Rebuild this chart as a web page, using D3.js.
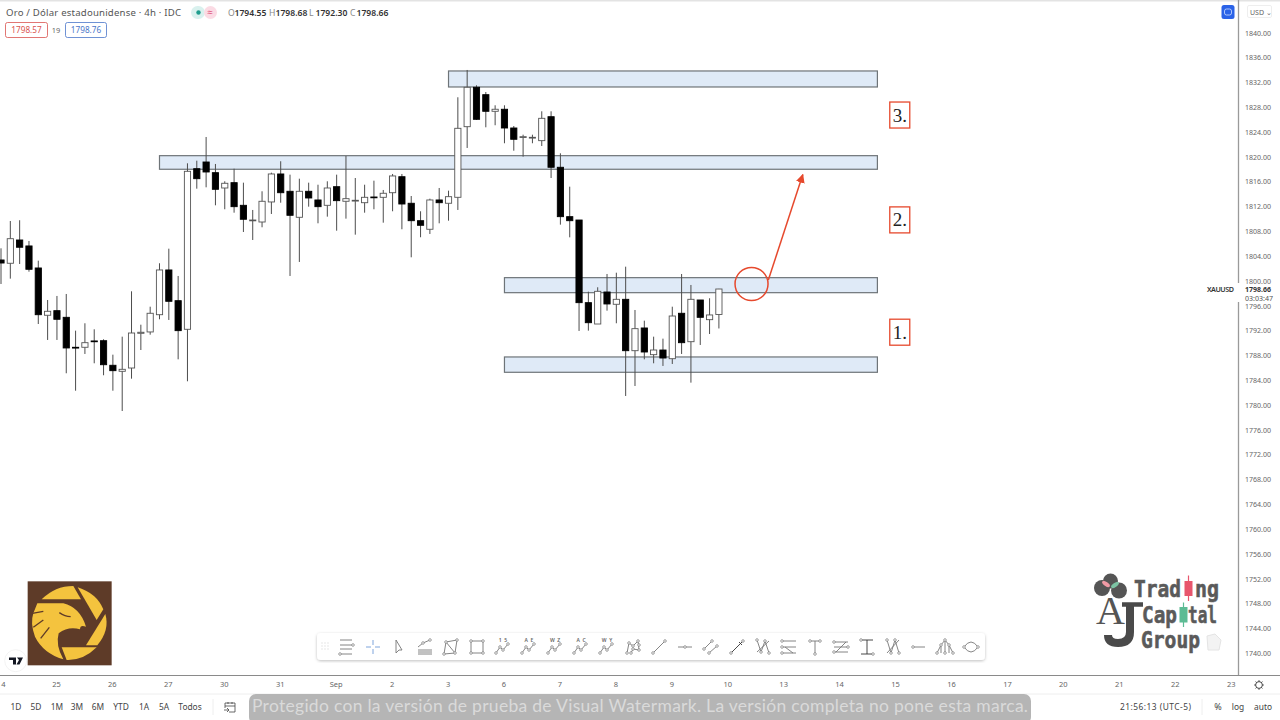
<!DOCTYPE html>
<html>
<head>
<meta charset="utf-8">
<title>Oro / Dólar estadounidense</title>
<style>
html, body { margin: 0; padding: 0; background: #fff; overflow: hidden; }
svg { display: block; font-family: "Noto Sans", "Open Sans", sans-serif; }
</style>
<script src="https://d3js.org/d3.v7.min.js"></script>
</head>
<body>
<script>

// candles, 4h bars
const opens = [1803.34,1802.81,1806.56,1805.60,1802.05,1794.43,1795.17,1794.10,1789.27,1789.27,1790.29,1790.33,1786.37,1785.40,1785.93,1791.52,1791.74,1794.52,1801.73,1796.78,1792.17,1818.05,1819.13,1817.41,1814.94,1815.80,1812.15,1809.67,1809.46,1812.69,1817.20,1814.41,1810.22,1814.41,1813.01,1812.15,1815.15,1812.80,1812.90,1812.57,1813.49,1813.44,1814.18,1816.76,1812.48,1809.67,1808.29,1813.01,1812.48,1813.44,1824.82,1831.17,1829.98,1827.30,1827.63,1824.61,1823.16,1823.05,1822.57,1826.43,1818.28,1810.32,1809.78,1796.46,1793.02,1798.18,1796.20,1797.00,1788.72,1792.38,1788.08,1788.83,1787.43,1794.75,1790.17,1796.89,1793.72,1794.55];
const highs = [1805.22,1809.62,1809.74,1806.40,1803.23,1796.89,1797.54,1797.86,1791.95,1793.14,1792.17,1790.56,1788.08,1790.98,1798.29,1792.91,1795.81,1802.81,1805.16,1800.76,1818.92,1819.34,1823.16,1818.81,1816.02,1818.05,1815.80,1811.40,1814.41,1817.41,1819.25,1817.09,1816.44,1815.80,1815.47,1816.02,1817.09,1820.10,1816.55,1815.47,1816.12,1814.62,1817.20,1817.20,1813.65,1811.19,1813.22,1814.94,1814.51,1829.56,1833.96,1831.49,1830.41,1828.27,1828.27,1824.93,1823.53,1823.53,1827.30,1827.30,1820.53,1815.15,1809.78,1798.23,1798.94,1801.08,1801.29,1802.26,1795.28,1793.56,1790.98,1790.66,1795.81,1801.08,1799.31,1796.89,1797.17,1798.68];
const lows = [1799.47,1800.33,1802.69,1801.45,1793.02,1790.45,1790.45,1785.08,1782.27,1788.19,1786.69,1784.76,1782.27,1779.00,1784.21,1788.83,1791.30,1793.78,1793.67,1787.33,1783.79,1814.83,1815.05,1812.15,1811.51,1810.96,1807.85,1806.56,1808.61,1810.75,1812.57,1800.76,1803.02,1811.93,1809.25,1810.32,1808.06,1810.00,1807.42,1810.96,1811.51,1809.35,1811.19,1808.29,1803.77,1807.00,1807.53,1809.25,1809.67,1811.40,1821.39,1825.90,1824.72,1825.05,1822.15,1820.95,1819.99,1822.15,1821.71,1816.55,1809.03,1806.99,1791.90,1791.95,1793.02,1795.17,1793.14,1781.42,1783.03,1787.33,1786.69,1786.26,1786.58,1788.19,1783.57,1789.64,1791.41,1792.30];
const closes = [1802.85,1806.77,1805.39,1801.84,1794.52,1795.07,1793.78,1789.16,1789.20,1790.01,1790.17,1786.46,1785.50,1785.72,1791.57,1791.69,1794.75,1801.73,1796.68,1791.95,1817.63,1816.44,1817.52,1814.73,1815.70,1811.93,1809.90,1809.78,1812.80,1817.20,1814.18,1810.54,1814.41,1813.33,1811.93,1814.94,1812.90,1813.22,1812.96,1813.44,1813.38,1814.09,1816.88,1812.36,1809.67,1808.93,1813.01,1812.57,1813.54,1824.56,1831.17,1826.01,1827.30,1827.63,1824.61,1822.79,1823.21,1823.11,1826.17,1818.28,1810.32,1809.67,1796.46,1793.23,1798.29,1796.25,1797.00,1788.72,1792.27,1788.51,1788.83,1787.54,1794.31,1790.01,1797.00,1794.10,1794.48,1798.66];

// one label per session, six bars each
const dayLabels = ["4","25","26","27","30","31","Sep","2","3","6","7","8","9","10","13","14","15","16","17","20","21","22","23"];
const priceTicks = d3.range(1740, 1841, 4);
const barsPerDay = 6;

// supply / demand boxes, from bar to bar
const zoneStart = [48, 17, 54, 54];
const zoneEnd = [94, 94, 94, 94];
const zoneTop = [1833.8, 1820.15, 1800.49, 1787.71];
const zoneBottom = [1831.22, 1817.96, 1798.07, 1785.24];

const stepLabels = ["3.", "2.", "1."];
const stepPrices = [1826.7, 1809.8, 1791.7];
const stepBar = 96.4;

const rangeLabels = ["1D","5D","1M","3M","6M","YTD","1A","5A","Todos"];
const rangeX = [16,36,57,77,98,121,144,164,190];

const lastPrice = 1798.66;

const W = 1280, H = 720;
const svg = d3.select("body").append("svg").attr("width", W).attr("height", H);

const x = d3.scaleLinear().domain([0, 77]).range([1, 718.9]);
const y = d3.scaleLinear().domain([1740, 1840]).range([653, 32.5]);

const red = "#e6492d";

// top hairline
svg.append("rect").attr("width", W).attr("height", 1.5).attr("fill", "#e3e3e3");

// zones go under the candles
svg.append("g").selectAll("rect").data(zoneTop).join("rect")
  .attr("x", (d,i) => x(zoneStart[i]))
  .attr("y", d => y(d))
  .attr("width", (d,i) => x(zoneEnd[i]) - x(zoneStart[i]))
  .attr("height", (d,i) => y(zoneBottom[i]) - y(d))
  .attr("fill", "#dfeaf7")
  .attr("stroke", "#6e7478")
  .attr("stroke-width", 1.2);

// candles
const bars = svg.append("g").selectAll("g").data(opens).join("g");
bars.append("line")
  .attr("x1", (d,i) => x(i)).attr("x2", (d,i) => x(i))
  .attr("y1", (d,i) => y(highs[i])).attr("y2", (d,i) => y(lows[i]))
  .attr("stroke", "#4d4d4d").attr("stroke-width", 1);
bars.append("rect")
  .attr("x", (d,i) => x(i) - 3.1)
  .attr("width", 6.2)
  .attr("y", (d,i) => y(Math.max(d, closes[i])))
  .attr("height", (d,i) => Math.max(0.8, Math.abs(y(d) - y(closes[i]))))
  .attr("fill", (d,i) => closes[i] >= d ? "#fff" : "#000")
  .attr("stroke", (d,i) => closes[i] >= d ? "#555" : "#000")
  .attr("stroke-width", 0.9);

// circle and arrow
svg.append("circle")
  .attr("cx", x(80.5)).attr("cy", y(1799.47)).attr("r", 16.5)
  .attr("fill", "none").attr("stroke", red).attr("stroke-width", 1.5);
svg.append("defs").append("marker")
  .attr("id", "head").attr("viewBox", "0 0 10 10").attr("refX", 9).attr("refY", 5)
  .attr("markerWidth", 9).attr("markerHeight", 9).attr("markerUnits", "userSpaceOnUse").attr("orient", "auto")
  .append("path").attr("d", "M0,0 L10,5 L0,10 Z").attr("fill", red);
svg.append("line")
  .attr("x1", x(82.3)).attr("y1", y(1800.1))
  .attr("x2", x(86)).attr("y2", y(1817.1))
  .attr("stroke", red).attr("stroke-width", 1.5).attr("marker-end", "url(#head)");

// numbered boxes
const steps = svg.append("g").selectAll("g").data(stepLabels).join("g")
  .attr("transform", (d,i) => `translate(${x(stepBar)},${y(stepPrices[i])})`);
steps.append("rect").attr("x", -10).attr("y", -13).attr("width", 20).attr("height", 26)
  .attr("fill", "#fff").attr("stroke", red).attr("stroke-width", 1.3);
steps.append("text").text(d => d).attr("text-anchor", "middle").attr("y", 6.5)
  .attr("font-family", "Liberation Serif").attr("font-size", 19).attr("fill", "#222");

// price axis
const yAxis = svg.append("g").attr("transform", "translate(1245,0)")
  .call(d3.axisRight(y).tickValues(priceTicks).tickSize(0).tickPadding(0).tickFormat(d => d.toFixed(2)));
yAxis.select(".domain").remove();
yAxis.selectAll("text").attr("font-size", 7.8).attr("font-family", "Noto Sans").attr("fill", "#666")
  .attr("textLength", 26).attr("lengthAdjust", "spacingAndGlyphs");

svg.append("line").attr("x1", 1238.5).attr("x2", 1238.5).attr("y1", 0).attr("y2", 676)
  .attr("stroke", "#9a9a9a").attr("stroke-width", 1.3);

// last price tag sits over axis line
svg.append("rect").attr("x", 1205).attr("y", 283).attr("width", 36).attr("height", 19).attr("fill", "#fff");
svg.append("rect").attr("x", 1241).attr("y", 285).attr("width", 39).attr("height", 17.5).attr("fill", "#fff");
svg.append("text").text("XAUUSD").attr("x", 1207).attr("y", y(lastPrice) + 3)
  .attr("font-size", 7.2).attr("font-weight", 600).attr("fill", "#333").attr("textLength", 27);
svg.append("text").text(lastPrice.toFixed(2)).attr("x", 1245).attr("y", y(lastPrice) + 3)
  .attr("font-size", 7.8).attr("font-weight", 700).attr("fill", "#333")
  .attr("textLength", 26).attr("lengthAdjust", "spacingAndGlyphs");
svg.append("text").text("03:03:47").attr("x", 1245).attr("y", y(lastPrice) + 11.5)
  .attr("font-size", 7.6).attr("fill", "#555")
  .attr("textLength", 28).attr("lengthAdjust", "spacingAndGlyphs");

// time axis
svg.append("line").attr("x1", 0).attr("x2", W).attr("y1", 675.5).attr("y2", 675.5)
  .attr("stroke", "#8a8a8a").attr("stroke-width", 1.2);
const xAxis = svg.append("g").attr("transform", "translate(-1,681.5)")
  .call(d3.axisBottom(x).tickValues(dayLabels.map((d,i) => i * barsPerDay))
    .tickSize(0).tickPadding(0).tickFormat((d,i) => dayLabels[i]));
xAxis.select(".domain").remove();
xAxis.selectAll("text").attr("font-size", 7.5).attr("font-family", "Noto Sans").attr("fill", "#666");
xAxis.selectAll("text").filter((d,i) => i == 0).attr("dx", 3); // keep the "4" on the page

svg.append("line").attr("x1", 0).attr("x2", W).attr("y1", 694).attr("y2", 694).attr("stroke", "#eee");

// gear
const gear = svg.append("g").attr("transform", "translate(1259,685)").attr("fill", "none").attr("stroke", "#444");
gear.append("circle").attr("r", 3.4).attr("stroke-width", 1);
gear.selectAll("line").data(d3.range(8)).join("line")
  .attr("x1", d => 3.4 * Math.cos(d * Math.PI / 4)).attr("y1", d => 3.4 * Math.sin(d * Math.PI / 4))
  .attr("x2", d => 4.8 * Math.cos(d * Math.PI / 4)).attr("y2", d => 4.8 * Math.sin(d * Math.PI / 4))
  .attr("stroke-width", 1);

// header
const hdr = svg.append("g").attr("fill", "#555");
hdr.append("text").text("Oro / Dólar estadounidense · 4h · IDC").attr("x", 6).attr("y", 15.5)
  .attr("font-size", 9.6).attr("textLength", 175);
hdr.append("rect").attr("x", 191).attr("y", 6).attr("width", 14).attr("height", 13).attr("rx", 6.5).attr("fill", "#d9f1ee");
hdr.append("rect").attr("x", 204).attr("y", 6).attr("width", 13).attr("height", 13).attr("rx", 6.5).attr("fill", "#fbdbe4");
hdr.append("circle").attr("cx", 198.5).attr("cy", 12.5).attr("r", 2.2).attr("fill", "#1f9d8d");
hdr.append("text").text("≈").attr("x", 210).attr("y", 15.5).attr("text-anchor", "middle").attr("font-size", 10).attr("fill", "#e0567f");
const ohlc = [["O","1794.55",228],["H","1798.68",269],["L","1792.30",309],["C","1798.66",350]];
ohlc.forEach(o => {
  hdr.append("text").text(o[0]).attr("x", o[2]).attr("y", 15.5).attr("font-size", 8.6).attr("fill", "#888");
  hdr.append("text").text(o[1]).attr("x", o[2] + 6.5).attr("y", 15.5).attr("font-size", 8.6).attr("font-weight", 600).attr("fill", "#333");
});
[[5,42,"1798.57","#d9534f"],[65,41,"1798.76","#4a76c9"]].forEach(b => {
  hdr.append("rect").attr("x", b[0] + .5).attr("y", 22.5).attr("width", b[1]).attr("height", 15).attr("rx", 2)
    .attr("fill", "#fff").attr("stroke", b[3]).attr("stroke-width", .8);
  hdr.append("text").text(b[2]).attr("x", b[0] + b[1] / 2 + .5).attr("y", 33).attr("text-anchor", "middle")
    .attr("font-size", 8.2).attr("fill", b[3]);
});
hdr.append("text").text("19").attr("x", 56).attr("y", 33).attr("text-anchor", "middle").attr("font-size", 7.4).attr("fill", "#666");

// blue button + currency
svg.append("rect").attr("x", 1221.5).attr("y", 5).attr("width", 13).attr("height", 14).attr("rx", 2.5).attr("fill", "#2b63e8");
svg.append("rect").attr("x", 1224.5).attr("y", 9).attr("width", 7).attr("height", 6).attr("rx", 2).attr("fill", "none").attr("stroke", "#cfe0ff").attr("stroke-width", .8);
svg.append("rect").attr("x", 1247.5).attr("y", 5.5).attr("width", 24).attr("height", 12).attr("rx", 1.5).attr("fill", "#fff").attr("stroke", "#e6e6e6").attr("stroke-width", .7);
svg.append("text").text("USD ⌄").attr("x", 1250).attr("y", 14.5).attr("font-size", 7).attr("fill", "#666");

// drawing toolbar
svg.append("filter").attr("id", "sh").append("feDropShadow")
  .attr("dx", 0).attr("dy", 1).attr("stdDeviation", 1.6).attr("flood-color", "#000").attr("flood-opacity", .25);
svg.append("rect").attr("x", 317).attr("y", 633).attr("width", 668).attr("height", 27).attr("rx", 4)
  .attr("fill", "#fff").attr("filter", "url(#sh)");
svg.append("g").selectAll("circle").data(d3.range(9)).join("circle")
  .attr("cx", d => 322 + (d % 3) * 3).attr("cy", d => 643 + Math.floor(d / 3) * 3).attr("r", .7).attr("fill", "#ddd");

// each icon: a path and the little handles on it, in a 20x20 box
const wave = "M3,16 L7,10 L10,13 L15,7";
const waveDots = [[3,16],[7,10],[10,13],[15,7]];
const icons = [
  {p:"M3,3 H15 M3,8 H15 M3,12 H15 M3,17 H15", c:"#777", d:[[16,8],[3,17]]},
  {p:"M10,3 V8 M10,12 V17 M3,10 H8 M12,10 H17", c:"#6f9bd8", d:[]},
  {p:"M7,3 L7,16 L10,13 L13,13 Z", c:"#777", d:[]},
  {p:"M3,10 L8,6 L15,3 M3,13 H17 M3,15 H17 M3,17 H17", c:"#777", d:[[8,6],[15,3]]},
  {p:"M5,5 L16,3 L14,16 L3,17 Z M5,5 L14,16", c:"#777", d:[[5,5],[16,3],[14,16],[3,17]]},
  {p:"M4,4 H16 V16 H4 Z", c:"#777", d:[[4,4],[16,4],[16,16],[4,16]]},
  {p:wave, c:"#777", d:waveDots, t:"1  5"},
  {p:wave, c:"#777", d:waveDots, t:"A  E"},
  {p:wave, c:"#777", d:waveDots, t:"W  Z"},
  {p:wave, c:"#777", d:waveDots, t:"A  C"},
  {p:wave, c:"#777", d:waveDots, t:"W  Y"},
  {p:"M4,16 L6,6 L10,9 L15,4 L16,13 L10,12 L8,16", c:"#777", d:[[4,16],[6,6],[10,9],[15,4],[16,13],[10,12],[8,16],[16,8]]},
  {p:"M4,16 L16,4", c:"#777", d:[[4,16],[16,4]]},
  {p:"M3,10 H17", c:"#777", d:[[10,10]]},
  {p:"M3,12 L11,4 M8,16 L16,9", c:"#777", d:[[3,12],[11,4],[8,16],[16,9]]},
  {p:"M4,16 L16,4 M12,5 L15,8", c:"#333", d:[[4,16],[16,4]]},
  {p:"M4,3 L8,15 L12,4 L16,16 M4,15 L16,4", c:"#777", d:[[4,3],[8,15],[12,4],[16,16]]},
  {p:"M3,4 H17 M3,10 H17 M3,16 H17 M6,10 L14,16", c:"#777", d:[[3,4],[3,10],[3,16]]},
  {p:"M5,4 H15 M10,4 V17", c:"#777", d:[[5,4],[15,4],[10,17]]},
  {p:"M3,5 H17 M3,10 H17 M3,15 H17 M5,15 L15,5", c:"#777", d:[[3,5],[17,10],[3,15]]},
  {p:"M4,3 H16 M4,17 H16 M10,3 V17", c:"#333", d:[[4,3],[16,17]]},
  {p:"M4,3 L8,16 L12,3 L16,16 M4,16 L16,3", c:"#777", d:[[4,3],[8,16],[12,3],[16,16]]},
  {p:"M4,10 H16", c:"#777", d:[[4,10]]},
  {p:"M2,16 L6,8 L10,3 L14,8 L18,16 M6,16 V8 M14,16 V8 M10,16 V3", c:"#777", d:[[2,16],[6,8],[10,3],[14,8],[18,16],[10,16]]},
  {p:"M3,10 Q10,0 17,10 Q10,20 3,10 Z", c:"#777", d:[[3,10],[17,10]]}
];
const iconSel = svg.append("g").selectAll("g").data(icons).join("g")
  .attr("transform", (d,i) => `translate(${337 + i * 26},637)`);
iconSel.append("path").attr("d", d => d.p).attr("fill", "none")
  .attr("stroke", d => d.c).attr("stroke-width", .9);
iconSel.selectAll("circle").data(d => d.d).join("circle")
  .attr("cx", d => d[0]).attr("cy", d => d[1]).attr("r", 1.3)
  .attr("fill", "#fff").attr("stroke", "#777").attr("stroke-width", .7);
iconSel.filter(d => d.t).append("text").text(d => d.t).attr("x", 10).attr("y", 5)
  .attr("text-anchor", "middle").attr("font-size", 5).attr("font-weight", 600).attr("fill", "#666")
  .attr("xml:space", "preserve").style("white-space", "pre");

// eagle logo, drawn in crop pixels
const eagle = svg.append("g").attr("transform", "translate(0,570) scale(0.3333)");
eagle.append("rect").attr("x", 83).attr("y", 34).attr("width", 252).attr("height", 252).attr("fill", "#5e3b28");
const gold = "#f4c33e";
["M125,88 Q165,48 220,48 L243,88 Z",
 "M233,52 Q290,70 310,118 L290,150 Z",
 "M316,132 Q330,180 292,226 L258,226 Z",
 "M185,232 L290,232 Q250,272 200,270 Z",
 "M112,100 L190,100 Q240,112 258,170 Q240,163 240,178 Q205,168 176,190 Q166,225 190,268 Q130,250 105,200 Q90,160 100,130 Z"
].forEach(d => eagle.append("path").attr("d", d).attr("fill", gold));
["M97,130 L130,124", "M100,172 L130,150", "M122,205 L148,172", "M178,128 Q195,140 212,140"].forEach(d =>
  eagle.append("path").attr("d", d).attr("stroke", "#5e3b28").attr("stroke-width", 4).attr("fill", "none"));

// tradingview badge
svg.append("circle").attr("cx", 15.7).attr("cy", 660.7).attr("r", 11).attr("fill", "#fff").attr("stroke", "#eee").attr("stroke-width", .7);
svg.append("path").attr("d", "M9,657.5 H16 V664.5 H13 V660 H9 Z M17,657.5 H23 L19.5,664.5 H16.5 L19,660 Z").attr("fill", "#131722");

// trading capital group logo
const tg = svg.append("g").attr("fill", "#555");
[[1102,588,8],[1110.5,581,7.5],[1119,590.5,8]].forEach(c => tg.append("circle").attr("cx", c[0]).attr("cy", c[1]).attr("r", c[2]));
tg.append("ellipse").attr("cx", 1106).attr("cy", 584).attr("rx", 4.5).attr("ry", 2).attr("transform", "rotate(35 1106 584)").attr("fill", "#f09aa5");
tg.append("ellipse").attr("cx", 1115).attr("cy", 585).attr("rx", 4.5).attr("ry", 2).attr("transform", "rotate(-35 1115 585)").attr("fill", "#7cc4a4");
tg.append("text").text("A").attr("x", 1110.5).attr("y", 624).attr("text-anchor", "middle")
  .attr("font-family", "Liberation Serif").attr("font-size", 40).attr("fill", "#555");
tg.append("path").attr("d", "M1130,604 V632 Q1130,643 1118,643 Q1108,643 1108,635")
  .attr("fill", "none").attr("stroke", "#4a4a4a").attr("stroke-width", 8);
tg.append("path").attr("d", "M1122,604.5 H1143")
  .attr("fill", "none").attr("stroke", "#4a4a4a").attr("stroke-width", 4.5);
const logoWords = [["Trad", 1134, 597, 47], ["ng", 1195, 597, 24], ["Cap", 1142, 623, 35], ["tal", 1188, 623, 29], ["Group", 1141, 648, 59]];
logoWords.forEach(w => tg.append("text").text(w[0])
  .attr("transform", `translate(${w[1]},${w[2]}) scale(1,1.2)`)
  .attr("font-family", "DejaVu Sans Mono").attr("font-weight", 700).attr("font-size", 19.5)
  .attr("fill", "#5a5a5a").attr("stroke", "#5a5a5a").attr("stroke-width", .5)
  .attr("textLength", w[3]).attr("lengthAdjust", "spacingAndGlyphs"));
[[1188.5,575.5,601,581,596,"#e8566d"],[1183.5,602.5,627,607,622.5,"#5dbb94"]].forEach(c => {
  tg.append("line").attr("x1", c[0]).attr("x2", c[0]).attr("y1", c[1]).attr("y2", c[2]).attr("stroke", c[5]).attr("stroke-width", 1.2);
  tg.append("rect").attr("x", c[0] - 4).attr("y", c[3]).attr("width", 8).attr("height", c[4] - c[3]).attr("fill", c[5]);
});
svg.append("path").attr("d", "M1207,636 L1215,634 L1221,640 L1219,650 L1208,650 Z").attr("fill", "#f3f3f3").attr("stroke", "#e4e4e4");

// bottom bar
const bot = svg.append("g").attr("font-size", 8.4).attr("fill", "#444");
bot.selectAll("text.r").data(rangeLabels).join("text").attr("class", "r")
  .text(d => d).attr("x", (d,i) => rangeX[i]).attr("y", 710).attr("text-anchor", "middle");
bot.append("line").attr("x1", 213).attr("x2", 213).attr("y1", 699).attr("y2", 715).attr("stroke", "#eee");
bot.append("path").attr("d", "M225,703 H235 V712 H229 M225,706 H235 M225,703 V708 M224,710 H229 M227,708 L229,710 L227,712 M228,702 V704 M232,702 V704")
  .attr("fill", "none").attr("stroke", "#444").attr("stroke-width", .8);
bot.append("text").text("21:56:13 (UTC-5)").attr("x", 1120).attr("y", 710).attr("textLength", 71);
bot.append("line").attr("x1", 1202).attr("x2", 1202).attr("y1", 699).attr("y2", 715).attr("stroke", "#eee");
bot.append("text").text("%").attr("x", 1218).attr("y", 710).attr("text-anchor", "middle").attr("font-size", 9);
bot.append("text").text("log").attr("x", 1238).attr("y", 710).attr("text-anchor", "middle");
bot.append("text").text("auto").attr("x", 1263).attr("y", 710).attr("text-anchor", "middle");

// trial watermark
svg.append("rect").attr("x", 249).attr("y", 694).attr("width", 782).attr("height", 30).attr("rx", 7).attr("fill", "#b5b5b5");
svg.append("text").text("Protegido con la versión de prueba de Visual Watermark. La versión completa no pone esta marca.")
  .attr("x", 252).attr("y", 712).attr("font-size", 17.5).attr("font-family", "Lato").attr("fill", "#dadada").attr("textLength", 776);

</script>
</body>
</html>
